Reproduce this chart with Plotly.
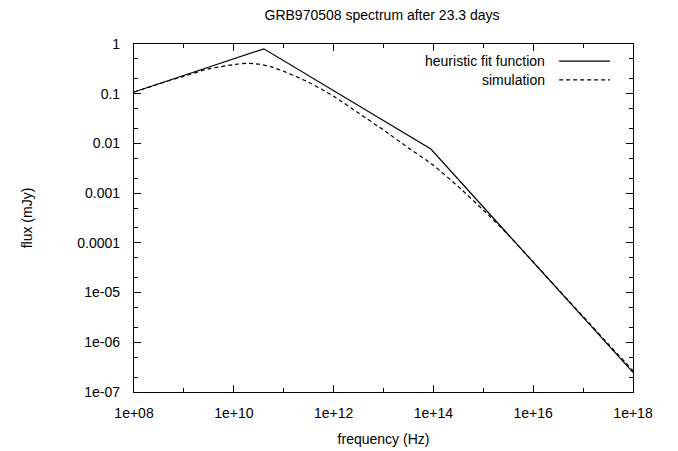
import plotly.graph_objects as go

# Heuristic fit function (broken power law) vertices
fit_freq = [1e8, 4.0e10, 8.9e13, 1e18]
fit_flux = [0.108, 0.80, 0.0077, 2.48e-7]

# Simulation curve
sim_freq = [1e8, 3.16e8, 1e9, 3.16e9, 1e10, 1.78e10, 3.16e10, 5.62e10, 1e11,
            3.16e11, 1e12, 3.16e12, 1e13, 3.16e13, 1e14, 3.16e14, 1e15,
            3.16e15, 1e16, 3.16e16, 1e17, 3.16e17, 1e18]
sim_flux = [0.108, 0.158, 0.226, 0.316, 0.385, 0.407, 0.394, 0.347, 0.282,
            0.170, 0.0891, 0.0407, 0.0186, 0.00813, 0.00363, 0.00135, 4.57e-4,
            1.45e-4, 4.12e-5, 1.16e-5, 3.31e-6, 9.33e-7, 2.69e-7]

x_ticks = [1e8, 1e10, 1e12, 1e14, 1e16, 1e18]
x_ticktext = ["1e+08", "1e+10", "1e+12", "1e+14", "1e+16", "1e+18"]
x_minor = [1e9, 1e11, 1e13, 1e15, 1e17]
y_ticks = [1e-7, 1e-6, 1e-5, 1e-4, 1e-3, 1e-2, 1e-1, 1]
y_ticktext = ["1e-07", "1e-06", "1e-05", "0.0001", "0.001", "0.01", "0.1", "1"]

labels = ["heuristic fit function", "simulation"]

FONT = "Liberation Sans, Arial, sans-serif"

fig = go.Figure()
fig.add_trace(go.Scatter(x=fit_freq, y=fit_flux, mode="lines", name=labels[0],
                         line=dict(color="black", width=1.2), showlegend=False))
fig.add_trace(go.Scatter(x=sim_freq, y=sim_flux, mode="lines", name=labels[1],
                         line=dict(color="black", width=1.2, dash="4px,3px",
                                   shape="spline", smoothing=0.6),
                         showlegend=False))
# invisible copy on the top/right axes so that their inside ticks are drawn
fig.add_trace(go.Scatter(x=fit_freq, y=fit_flux, xaxis="x2", yaxis="y2",
                         mode="lines", line=dict(width=0, color="black"),
                         opacity=0, showlegend=False, hoverinfo="skip"))

# Legend drawn gnuplot-style: text right-aligned, sample line to its right
leg_y = [0.951, 0.897]
leg_dash = ["solid", "4px,3px"]
for lab, yy, dsh in zip(labels, leg_y, leg_dash):
    fig.add_annotation(xref="paper", yref="paper", x=0.828, y=yy, text=lab,
                       showarrow=False, xanchor="right", yanchor="middle",
                       font=dict(family=FONT, size=14, color="black"))
    fig.add_shape(type="line", xref="paper", yref="paper", x0=0.852, x1=0.954,
                  y0=yy, y1=yy, line=dict(color="black", width=1.2, dash=dsh))

axis_common = dict(
    showline=True, linecolor="black", linewidth=1.2, mirror=True,
    ticks="inside", ticklen=7, tickwidth=1.2, tickcolor="black",
    showgrid=False, zeroline=False,
    tickfont=dict(family=FONT, size=14, color="black"),
)
x_common = dict(type="log", range=[8, 18], tickmode="array", tickvals=x_ticks,
                minor=dict(tickmode="array", tickvals=x_minor, ticks="inside",
                           ticklen=4, tickwidth=1.2, tickcolor="black",
                           showgrid=False))
y_common = dict(type="log", range=[-7, 0], tickmode="array", tickvals=y_ticks,
                minor=dict(dtick="D2", ticks="inside", ticklen=4,
                           tickwidth=1.2, tickcolor="black", showgrid=False))

fig.update_layout(
    xaxis=dict(
        ticktext=x_ticktext, ticklabelstandoff=8,
        title=dict(text="frequency (Hz)", standoff=14,
                   font=dict(family=FONT, size=14, color="black")),
        **x_common, **axis_common,
    ),
    yaxis=dict(
        ticktext=y_ticktext, ticklabelstandoff=10,
        title=dict(text="flux (mJy)", standoff=41,
                   font=dict(family=FONT, size=14, color="black")),
        **y_common, **axis_common,
    ),
    xaxis2=dict(overlaying="x", side="top", anchor="y", showticklabels=False,
                **x_common, **axis_common),
    yaxis2=dict(overlaying="y", side="right", anchor="x", showticklabels=False,
                **y_common, **axis_common),
)

fig.update_layout(
    width=678, height=451,
    margin=dict(l=134, r=45, t=44, b=59, autoexpand=False),
    paper_bgcolor="white", plot_bgcolor="white",
    title=dict(text="GRB970508 spectrum after 23.3 days", x=0.5635,
               xanchor="center", y=0.967, yanchor="middle",
               font=dict(family=FONT, size=14, color="black")),
    font=dict(family=FONT, size=14, color="black"),
)

fig.write_html("out.html", config={"displayModeBar": False},
               post_script="document.body.style.margin='0';"
                           "document.body.style.overflow='hidden';")
